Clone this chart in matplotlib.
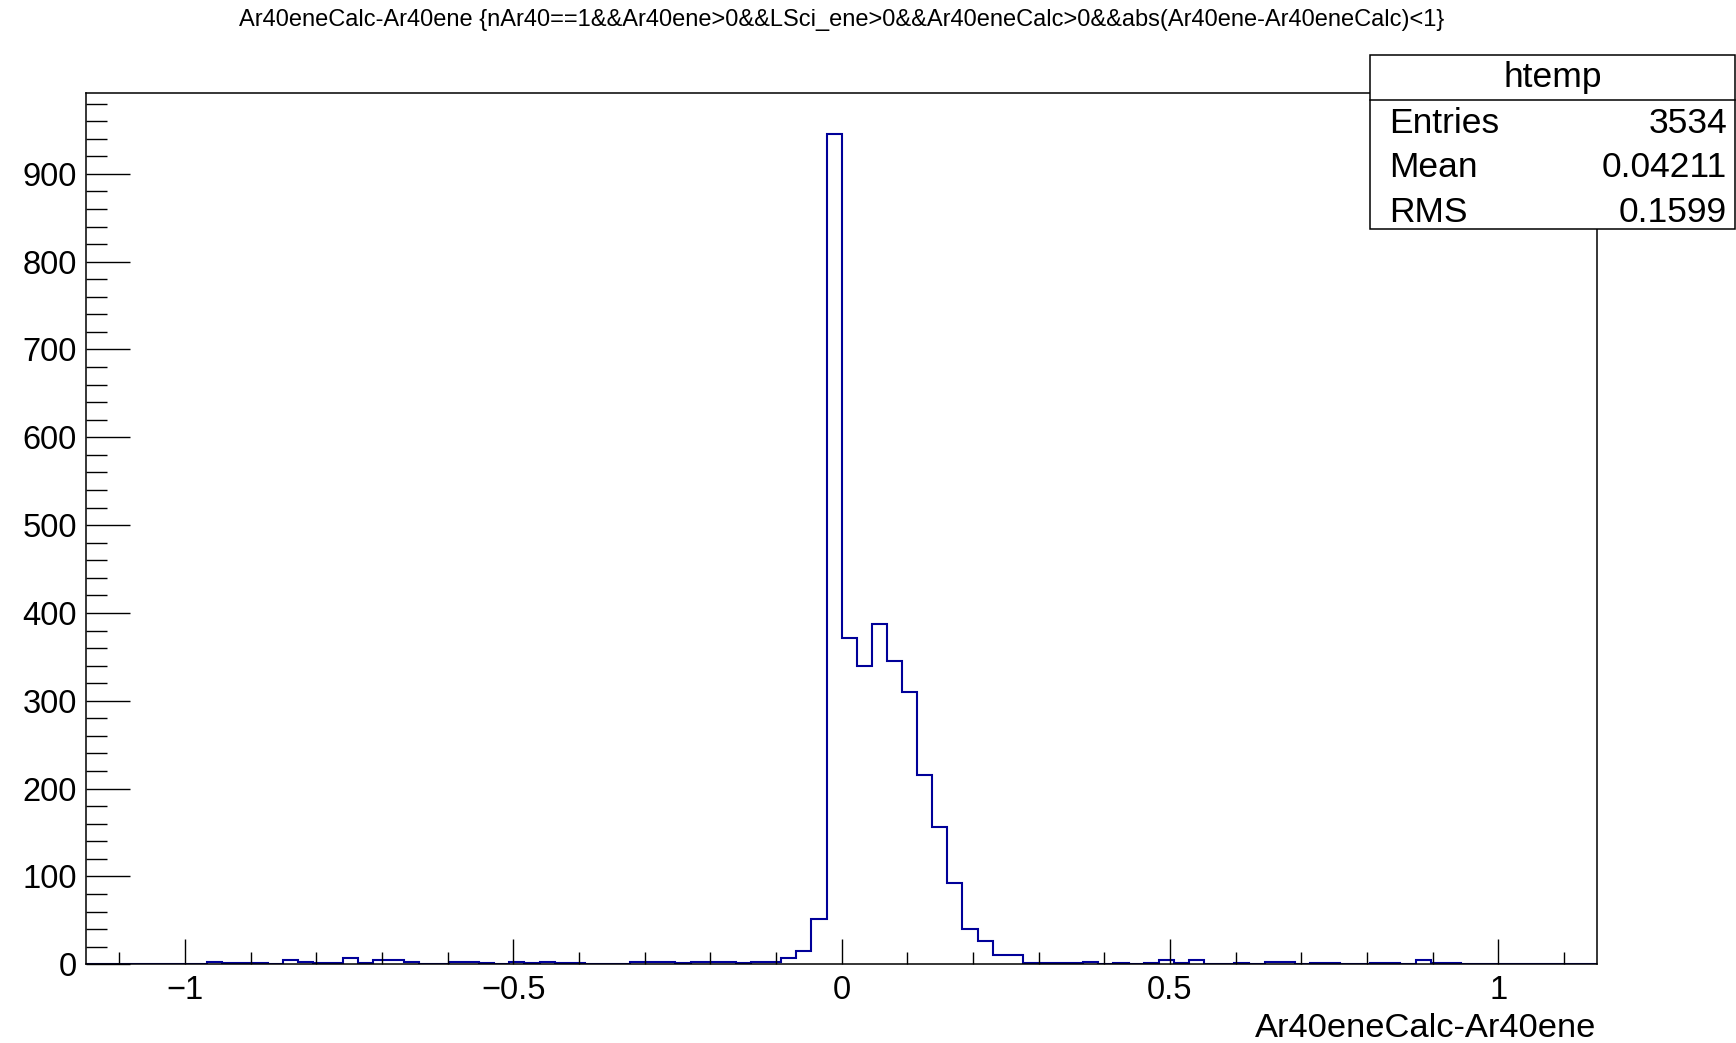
import numpy as np
import matplotlib
matplotlib.use("Agg")
import matplotlib.pyplot as plt
from matplotlib.patches import Rectangle
from matplotlib.ticker import MultipleLocator

plt.rcParams['font.family'] = ['Liberation Sans', 'DejaVu Sans']

# histogram: 100 bins over [-1.15, 1.15]
x_lo, x_hi, n_bins = -1.15, 1.15, 100
counts = [
    0, 0, 0, 0, 0, 0, 0, 0, 3, 1,
    1, 1, 0, 5, 3, 1, 1, 7, 1, 5,
    5, 3, 0, 0, 3, 3, 1, 0, 3, 1,
    3, 1, 1, 0, 0, 0, 3, 3, 3, 1,
    3, 3, 3, 1, 3, 3, 7, 15, 51, 945,
    371, 340, 387, 345, 310, 216, 156, 93, 40, 27,
    10, 10, 1, 1, 1, 1, 3, 0, 1, 0,
    1, 5, 1, 5, 0, 0, 1, 0, 3, 3,
    0, 1, 1, 0, 0, 1, 1, 0, 5, 1,
    1, 0, 0, 0, 0, 0, 0, 0, 0, 0,
]
stat_names = ["Entries", "Mean", "RMS"]
stat_values = ["3534", "0.04211", "0.1599"]
hist_name = "htemp"
var_name = "Ar40eneCalc-Ar40ene"
title = "Ar40eneCalc-Ar40ene {nAr40==1&&Ar40ene>0&&LSci_ene>0&&Ar40eneCalc>0&&abs(Ar40ene-Ar40eneCalc)<1}"

edges = np.linspace(x_lo, x_hi, n_bins + 1)

fig = plt.figure(figsize=(17.36, 10.43), dpi=100)
ax = fig.add_axes([0.0498, 0.0755, 0.9198 - 0.0498, 0.9108 - 0.0755])

ax.stairs(counts, edges, color='#000099', lw=1.5)
ax.set_xlim(x_lo, x_hi)
ax.set_ylim(0, 992)

for s in ax.spines.values():
    s.set_linewidth(1.1)

ax.xaxis.set_major_locator(MultipleLocator(0.5))
ax.xaxis.set_minor_locator(MultipleLocator(0.1))
ax.yaxis.set_major_locator(MultipleLocator(100))
ax.yaxis.set_minor_locator(MultipleLocator(20))
ax.set_xticks([-1, -0.5, 0, 0.5, 1])
ax.set_xticklabels(['\u22121', '\u22120.5', '0', '0.5', '1'])

ax.tick_params(axis='x', which='major', direction='in', length=18, width=1, labelsize=23.5, pad=7.5)
ax.tick_params(axis='x', which='minor', direction='in', length=9, width=1)
ax.tick_params(axis='y', which='major', direction='in', length=32, width=1, labelsize=23.5, pad=7)
ax.tick_params(axis='y', which='minor', direction='in', length=15, width=1)

fig.text(0.9198, 6 / 1043, var_name, ha='right', va='baseline', fontsize=24.8)
fig.text(842 / 1736, 0.981, title, ha='center', va='center', fontsize=17)

# stats box
bx0, bx1 = 1370 / 1736, 1735 / 1736
by0, by1 = 1 - 229 / 1043, 1 - 55 / 1043
fig.patches.append(Rectangle((bx0, by0), bx1 - bx0, by1 - by0, transform=fig.transFigure,
                             facecolor='white', edgecolor='black', lw=1.1, zorder=5))
sep_y = 1 - 99.6 / 1043
fig.add_artist(plt.Line2D([bx0, bx1], [sep_y, sep_y], transform=fig.transFigure, color='black', lw=1.1, zorder=6))
fig.text((bx0 + bx1) / 2, 1 - 78 / 1043, hist_name, ha='center', va='center', fontsize=25.5, zorder=7)
row_y = [123.5, 167.5, 212]
for name, val, yy in zip(stat_names, stat_values, row_y):
    fig.text(1389 / 1736, 1 - yy / 1043, name, ha='left', va='center', fontsize=25.5, zorder=7)
    fig.text(1727 / 1736, 1 - yy / 1043, val, ha='right', va='center', fontsize=25.5, zorder=7)

fig.savefig("out.png", dpi=100)
